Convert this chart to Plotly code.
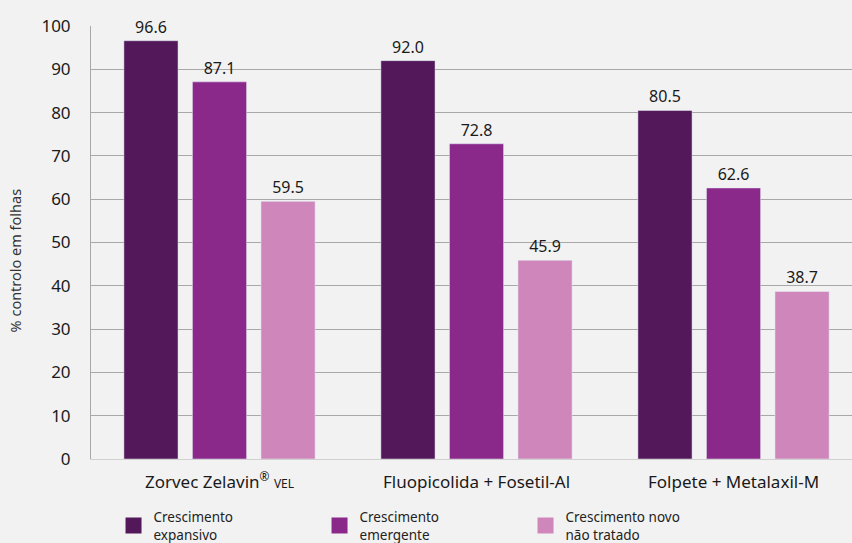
import plotly.graph_objects as go

categories = ["Zorvec Zelavin<sup>®</sup> <span style='font-size:12px'>VEL</span>",
              "Fluopicolida + Fosetil-Al", "Folpete + Metalaxil-M"]
series_names = ["Crescimento<br>expansivo", "Crescimento<br>emergente", "Crescimento novo<br>não tratado"]
expansivo = [96.6, 92.0, 80.5]
emergente = [87.1, 72.8, 62.6]
nao_tratado = [59.5, 45.9, 38.7]
colors = ["#52185a", "#8b298b", "#cf87bb"]
y_ticks = [0, 10, 20, 30, 40, 50, 60, 70, 80, 90, 100]

FONT = "Noto Sans"
x_pos = list(range(len(categories)))
fig = go.Figure()
for name, vals, col in zip(series_names, [expansivo, emergente, nao_tratado], colors):
    fig.add_trace(go.Bar(
        x=x_pos, y=vals, name=name, marker_color=col, showlegend=False,
        text=[f"{v:.1f}" for v in vals], textposition="outside",
        textfont=dict(size=16, color="#1a1a1a"), cliponaxis=False,
    ))
    # legend swatch (larger square than the default bar swatch)
    fig.add_trace(go.Scatter(
        x=[None], y=[None], mode="markers", name=name,
        marker=dict(symbol="square", size=16, color=col), hoverinfo="skip",
    ))

fig.update_layout(
    width=852, height=543,
    paper_bgcolor="#f2f2f2", plot_bgcolor="#f2f2f2",
    font=dict(family=FONT, color="#1a1a1a"),
    margin=dict(l=91, r=0, t=26, b=84, autoexpand=False),
    barmode="group", bargap=0.2, bargroupgap=0.21,
    showlegend=True,
    legend=dict(orientation="h", x=0.0296, xanchor="left", y=-0.098, yanchor="top",
                font=dict(size=13.5, color="#222222", family=FONT), entrywidth=161,
                itemsizing="trace", traceorder="normal", tracegroupgap=0,
                bgcolor="rgba(0,0,0,0)"),
    xaxis=dict(range=[-0.5, 2.461], tickvals=x_pos, ticktext=categories, automargin=False,
               tickfont=dict(size=17, color="#1a1a1a"), showgrid=False,
               showline=True, linecolor="#d0d0d0", ticks="outside", ticklen=8,
               tickcolor="rgba(0,0,0,0)", zeroline=False),
    yaxis=dict(range=[0, 100], tickvals=y_ticks, tickfont=dict(size=17, color="#1a1a1a"),
               showgrid=True, gridcolor="#a8a8a8", gridwidth=1, automargin=False,
               showline=True, linecolor="#a8a8a8", ticks="outside", ticklen=16,
               tickcolor="rgba(0,0,0,0)", zeroline=False,
               title=dict(text="% controlo em folhas" + "\u2002" * 5 + "\u200b",
                          font=dict(size=14.5, color="#333333"), standoff=16)),
)
fig.write_html("out.html", config={"displayModeBar": False},
               post_script="document.body.style.margin='0';")
